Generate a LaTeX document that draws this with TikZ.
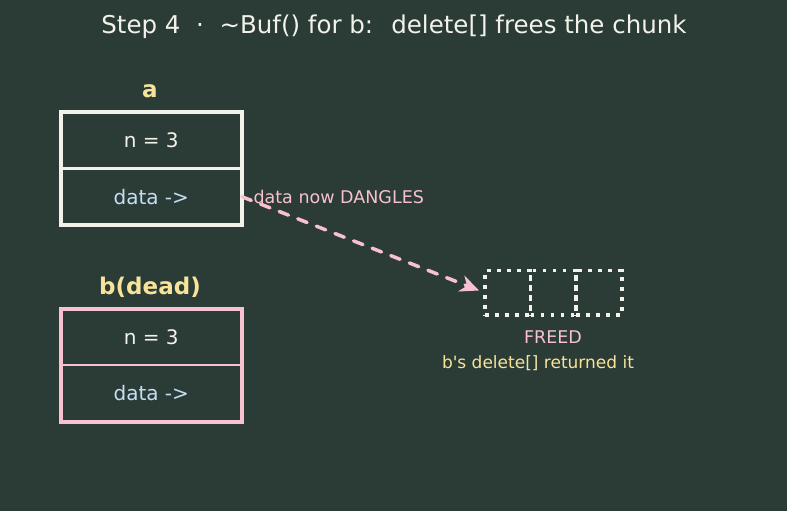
\documentclass[tikz,border=0pt]{standalone}
\usepackage{fontspec}
\setmainfont{DejaVu Sans}
\usetikzlibrary{arrows.meta}
\definecolor{bg}{HTML}{2B3B35}
\definecolor{txt}{HTML}{F2F2EA}
\definecolor{yel}{HTML}{F7E49A}
\definecolor{pnk}{HTML}{F7C1CF}
\definecolor{blu}{HTML}{C4DFF2}
\definecolor{wht}{HTML}{F2F2EA}
\begin{document}
\begin{tikzpicture}[x=1pt,y=-1pt,
  cell/.style={draw=#1,line width=2.5pt,minimum width=181.5pt,minimum height=56.5pt,inner sep=0pt,outer sep=0pt,anchor=north west},
  frame/.style={draw=#1,line width=4pt},
  fcell/.style={draw=wht,line width=3.5pt,dash pattern=on 3.5pt off 6.5pt,minimum width=45.6pt,minimum height=44.5pt,inner sep=0pt,outer sep=0pt,anchor=north west},
  lbl/.style={font=\fontsize{23}{27}\selectfont\bfseries,text=yel},
  val/.style={font=\fontsize{20}{24}\selectfont,text=txt},
  ptr/.style={font=\fontsize{20}{24}\selectfont,text=blu},
  note/.style={font=\fontsize{17.5}{21}\selectfont}]
\fill[bg] (0,0) rectangle (787,511);
\useasboundingbox (0,0) rectangle (787,511);
\node[font=\fontsize{24.5}{29}\selectfont,text=txt] (title) at (394,27) {Step 4 \ · \ \textasciitilde Buf() for b: \ delete[] frees the chunk};
% a
\node[lbl] (la) at (150,91) {a};
\node[cell=wht] (an) at (60.5,112) {};
\node[cell=wht] (ad) at (60.5,168.5) {};
\draw[frame=wht] (an.north west) rectangle (ad.south east);
\node[val] at (an.center) {n = 3};
\node[ptr] at (ad.center) {data ->};
% b
\node[lbl] (lb) at (150,287.5) {b(dead)};
\node[cell=pnk] (bn) at (60.5,308.7) {};
\node[cell=pnk] (bd) at (60.5,365.2) {};
\draw[frame=pnk] (bn.north west) rectangle (bd.south east);
\node[val] at (bn.center) {n = 3};
\node[ptr] at (bd.center) {data ->};
% freed
\node[fcell] (f1) at (485,270.7) {};
\node[fcell] (f2) at (530.6,270.7) {};
\node[fcell] (f3) at (576.2,270.7) {};
\node[note,text=pnk] (fr) at (553,337) {FREED};
\node[font=\fontsize{17}{20}\selectfont,text=yel] (ret) at (538,363) {b\textquotesingle s delete[] returned it};
% arrow
\coordinate (s) at (ad.east);
\coordinate (t) at (479,290.5);
\draw[pnk,line width=3.5pt,line cap=round,dash pattern=on 10pt off 10pt,-{Stealth[length=19pt,width=17pt]}] (s) -- (t);
\node[note,text=pnk,anchor=west] (dl) at (250,197) {data now DANGLES};
\end{tikzpicture}
\end{document}
